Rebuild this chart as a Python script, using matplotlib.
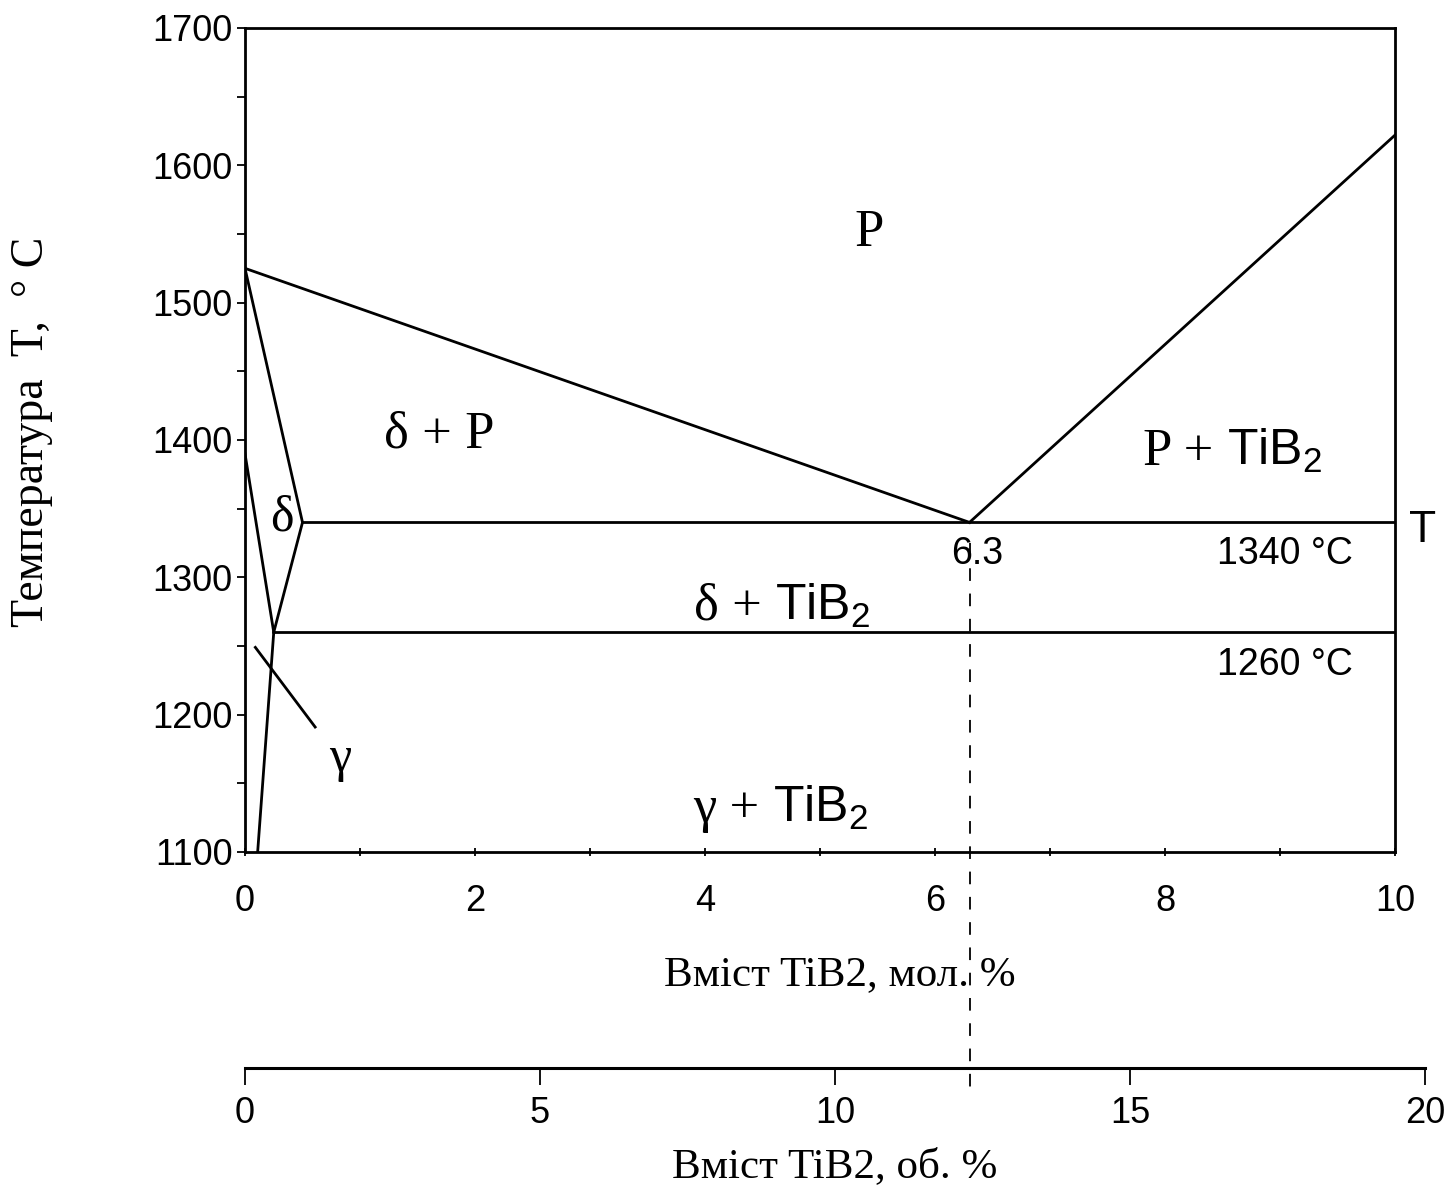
import matplotlib.pyplot as plt
from matplotlib.ticker import MultipleLocator

plt.rcParams['mathtext.fontset'] = 'custom'
plt.rcParams['mathtext.rm'] = 'Liberation Sans'

# phase boundaries, x in mol.% TiB2, T in deg C
liq_left_x = [0, 6.3]
liq_left_t = [1525, 1340]
liq_right_x = [6.3, 10]
liq_right_t = [1340, 1622]
delta_x = [0, 0.5, 0.25]
delta_t = [1525, 1340, 1260]
gd_x = [0, 0.25]
gd_t = [1390, 1260]
gamma_x = [0.25, 0.11]
gamma_t = [1260, 1100]
eut_x = [0.5, 10]
eut_t = [1340, 1340]
per_x = [0.25, 10]
per_t = [1260, 1260]
pointer_x = [0.09, 0.61]
pointer_t = [1249, 1191]

eutectic_mol = 6.3
vol_ticks = [0, 5, 10, 15, 20]

serif = 'Liberation Serif'
sans = 'Liberation Sans'

fig = plt.figure(figsize=(14.44, 11.87), dpi=100)
ax = fig.add_axes([245/1444, 1 - 852/1187, 1150/1444, 824/1187])

lw = 2.0
for xs, ts in [(liq_left_x, liq_left_t), (liq_right_x, liq_right_t),
               (delta_x, delta_t), (gd_x, gd_t), (gamma_x, gamma_t),
               (eut_x, eut_t), (per_x, per_t), (pointer_x, pointer_t)]:
    ax.plot(xs, ts, color='black', lw=lw)

# dashed line from the eutectic down through the vol.% scale
ax.plot([eutectic_mol, eutectic_mol], [1325, 925], color='black', lw=1.3,
        dashes=(7, 7), clip_on=False)

ax.set_xlim(0, 10)
ax.set_ylim(1100, 1700)
ax.xaxis.set_major_locator(MultipleLocator(2))
ax.xaxis.set_minor_locator(MultipleLocator(1))
ax.yaxis.set_major_locator(MultipleLocator(100))
ax.yaxis.set_minor_locator(MultipleLocator(50))
ax.tick_params(axis='y', which='both', direction='out', length=6, width=1.3,
               labelsize=26, pad=3)
ax.tick_params(axis='x', which='both', direction='inout', length=6, width=1.3,
               labelsize=26, pad=20)
for lab in ax.get_xticklabels() + ax.get_yticklabels():
    lab.set_fontfamily(sans)
for s in ax.spines.values():
    s.set_linewidth(2.0)

ax.set_xlabel('Вміст TiB2, мол. %', fontfamily=serif, fontsize=31, va='center')
ax.xaxis.set_label_coords(0.517, -0.149)
ax.set_ylabel('Температура  T,  ° C', fontfamily=serif, fontsize=33, va='center')
ax.yaxis.set_label_coords(-0.185, 0.51)


def label(x, y, first, rest):
    # serif greek part followed by a sans TiB2 on the same baseline
    t = ax.text(x, y, first, fontfamily=serif, fontsize=38, ha='left', va='baseline')
    ax.annotate(rest, xy=(1, y), xycoords=(t, 'data'), fontfamily=sans, fontsize=36,
                ha='left', va='baseline')


ax.text(5.43, 1551, 'P', fontfamily=serif, fontsize=38, ha='center', va='center')
ax.text(1.69, 1404, 'δ + P', fontfamily=serif, fontsize=38, ha='center', va='center')
label(7.81, 1382, 'P + ', 'TiB$_2$')
label(3.9, 1269, 'δ + ', 'TiB$_2$')
label(3.9, 1122, 'γ + ', 'TiB$_2$')
ax.text(0.32, 1343, 'δ', fontfamily=serif, fontsize=36, ha='center', va='center')
ax.text(0.83, 1168, 'γ', fontfamily=serif, fontsize=36, ha='center', va='center')
ax.text(6.37, 1317, '6.3', fontfamily=sans, fontsize=27, ha='center', va='center')
ax.text(9.04, 1317, '1340 °C', fontfamily=sans, fontsize=27, ha='center', va='center')
ax.text(9.04, 1236, '1260 °C', fontfamily=sans, fontsize=27, ha='center', va='center')
ax.text(10.24, 1334, 'T', fontfamily=sans, fontsize=32, ha='center', va='center',
        clip_on=False)

# second scale in vol.%
ax2 = fig.add_axes([245/1444, 1 - 1068/1187, 1180/1444, 0.0001])
ax2.set_xlim(0, 20)
ax2.set_xticks(vol_ticks)
ax2.set_yticks([])
for side in ['top', 'left', 'right']:
    ax2.spines[side].set_visible(False)
ax2.spines['bottom'].set_linewidth(2.2)
ax2.tick_params(axis='x', direction='out', length=12, width=1.3, labelsize=26, pad=8)
for lab in ax2.get_xticklabels():
    lab.set_fontfamily(sans)
ax2.set_xlabel('Вміст TiB2, об. %', fontfamily=serif, fontsize=31, labelpad=12)

fig.savefig('out.png', dpi=100, facecolor='white')
